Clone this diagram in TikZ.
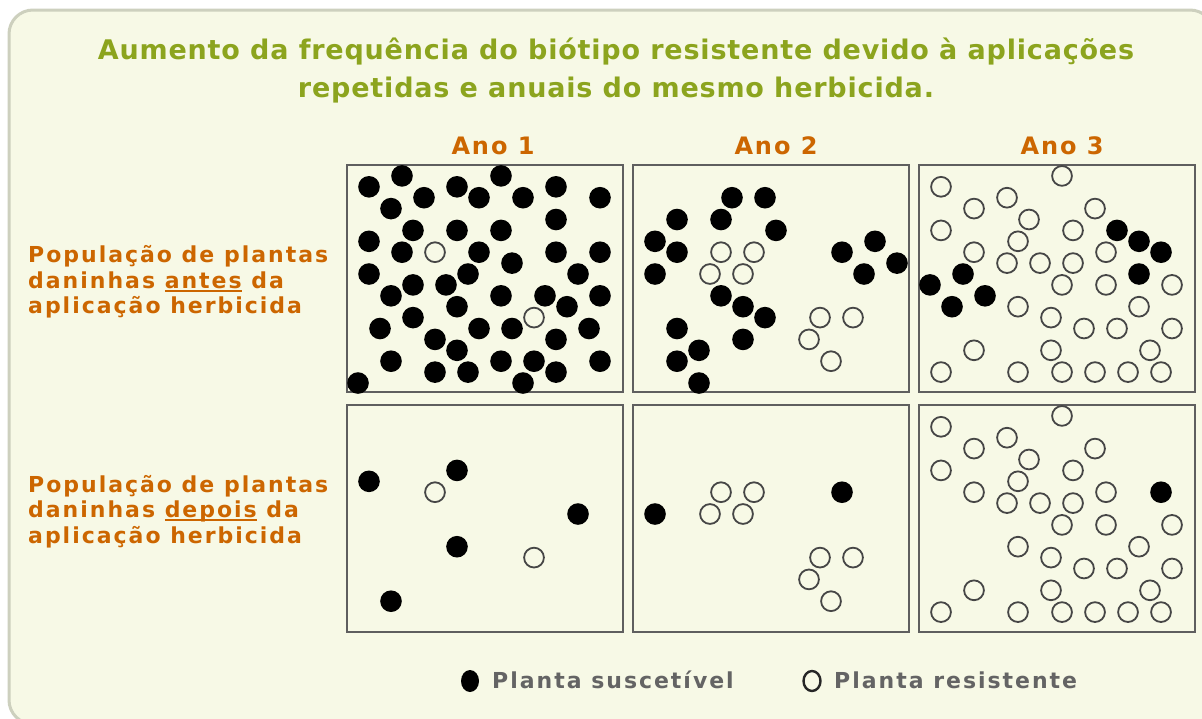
\documentclass[tikz,border=0pt]{standalone}
\usepackage{fontspec}
\setmainfont{DejaVu Sans}
\newfontfamily\titlefont[LetterSpace=3]{DejaVu Sans Bold}
\newfontfamily\labelfont[LetterSpace=9]{DejaVu Sans Bold}
\newfontfamily\anofont[LetterSpace=8]{DejaVu Sans Bold}
\definecolor{cream}{RGB}{247,249,230}
\definecolor{framegray}{RGB}{205,208,190}
\definecolor{titlegreen}{RGB}{140,164,30}
\definecolor{orangetxt}{RGB}{204,102,0}
\definecolor{legendgray}{RGB}{100,100,100}
\definecolor{boxgray}{RGB}{95,95,95}
\definecolor{ringgray}{RGB}{70,70,70}
\newcommand\ulword[1]{\setbox0=\hbox{#1}\rlap{\rule[-3.6pt]{\wd0}{1.6pt}}\box0\relax}
\newcommand\plantset[4]{%
  \foreach \i/\j in {#3} \fill[susc] ({#1+11*\i},{#2+10.9*\j}) circle[radius=10.8pt];
  \foreach \i/\j in {#4} \draw[resi] ({#1+11*\i},{#2+10.9*\j}) circle[radius=9.9pt];
}
\begin{document}
\begin{tikzpicture}[x=1pt,y=-1pt,
  frame/.style={draw=framegray,line width=3pt,fill=cream,rounded corners=24pt},
  panel/.style={draw=boxgray,line width=2pt,fill=cream},
  susc/.style={fill=black},
  resi/.style={draw=ringgray,line width=1.8pt},
  legring/.style={draw=black!85,line width=2.4pt},
  titletext/.style={inner sep=0pt,text=titlegreen,font=\titlefont\fontsize{27}{32}\selectfont,anchor=base},
  anotext/.style={inner sep=0pt,text=orangetxt,font=\anofont\fontsize{24}{28}\selectfont,anchor=base},
  rowtext/.style={inner sep=0pt,text=orangetxt,font=\labelfont\fontsize{22}{26}\selectfont,anchor=base west},
  legendtext/.style={inner sep=0pt,text=legendgray,font=\labelfont\fontsize{22}{26}\selectfont,anchor=base west}]
\useasboundingbox (0,0) rectangle (1202,718);
\fill[white] (0,0) rectangle (1202,718);
\draw[frame] (9,10) rectangle (1214,724);
% title
\node[titletext] (title1) at (616,59) {Aumento da frequência do biótipo resistente devido à aplicações};
\node[titletext] (title2) at (616,97) {repetidas e anuais do mesmo herbicida.};
% year labels
\node[anotext] (ano1) at (493,154) {Ano 1};
\node[anotext] (ano2) at (776,154) {Ano 2};
\node[anotext] (ano3) at (1062,154) {Ano 3};
% row labels
\node[rowtext] (ra1) at (28,262) {População de plantas};
\node[rowtext] (ra2) at (28,288) {daninhas \ulword{antes} da};
\node[rowtext] (ra3) at (28,313) {aplicação herbicida};
\node[rowtext] (rb1) at (28,492) {População de plantas};
\node[rowtext] (rb2) at (28,517) {daninhas \ulword{depois} da};
\node[rowtext] (rb3) at (28,543) {aplicação herbicida};
% panels
\foreach \px in {347,633,919}
  \foreach \py in {165,405}
    \draw[panel] (\px,\py) rectangle ++(276,227);
% Ano 1, before
\plantset{347}{165}{2/2,5/1,10/2,14/1,19/2,7/3,12/3,16/3,23/3,4/4,19/5,6/6,10/6,14/6,2/7,5/8,12/8,19/8,23/8,15/9,11/10,2/10,21/10,6/11,9/11,4/12,14/12,18/12,23/12,10/13,20/13,6/14,3/15,12/15,15/15,22/15,8/16,19/16,10/17,4/18,14/18,17/18,23/18,8/19,11/19,19/19,1/20,16/20}{8/8,17/14}
% Ano 2, before
\plantset{633}{165}{9/3,12/3,4/5,8/5,13/6,2/7,4/8,2/10,19/8,22/7,24/9,21/10,8/12,10/13,12/14,10/16,4/15,6/17,4/18,6/20}{8/8,11/8,7/10,10/10,17/14,20/14,16/16,18/18}
% Ano 3, before
\plantset{919}{165}{18/6,20/7,22/8,20/10,1/11,4/10,6/12,3/13}{2/2,13/1,8/3,5/4,16/4,10/5,2/6,14/6,9/7,5/8,17/8,8/9,11/9,14/9,13/11,17/11,23/11,9/13,20/13,12/14,15/15,18/15,23/15,5/17,12/17,21/17,2/19,9/19,13/19,16/19,19/19,22/19}
% Ano 1, after
\plantset{347}{405}{2/7,10/6,21/10,10/13,4/18}{8/8,17/14}
% Ano 2, after
\plantset{633}{405}{2/10,19/8}{8/8,11/8,7/10,10/10,17/14,20/14,16/16,18/18}
% Ano 3, after
\plantset{919}{405}{22/8}{2/2,13/1,8/3,5/4,16/4,10/5,2/6,14/6,9/7,5/8,17/8,8/9,11/9,14/9,13/11,17/11,23/11,9/13,20/13,12/14,15/15,18/15,23/15,5/17,12/17,21/17,2/19,9/19,13/19,16/19,19/19,22/19}
% legend
\fill[susc] (470,681) ellipse[x radius=9pt,y radius=11pt];
\node[legendtext] (leg1) at (492,688) {Planta suscetível};
\draw[legring] (812,681) ellipse[x radius=8.5pt,y radius=10pt];
\node[legendtext] (leg2) at (834,688) {Planta resistente};
\end{tikzpicture}
\end{document}
